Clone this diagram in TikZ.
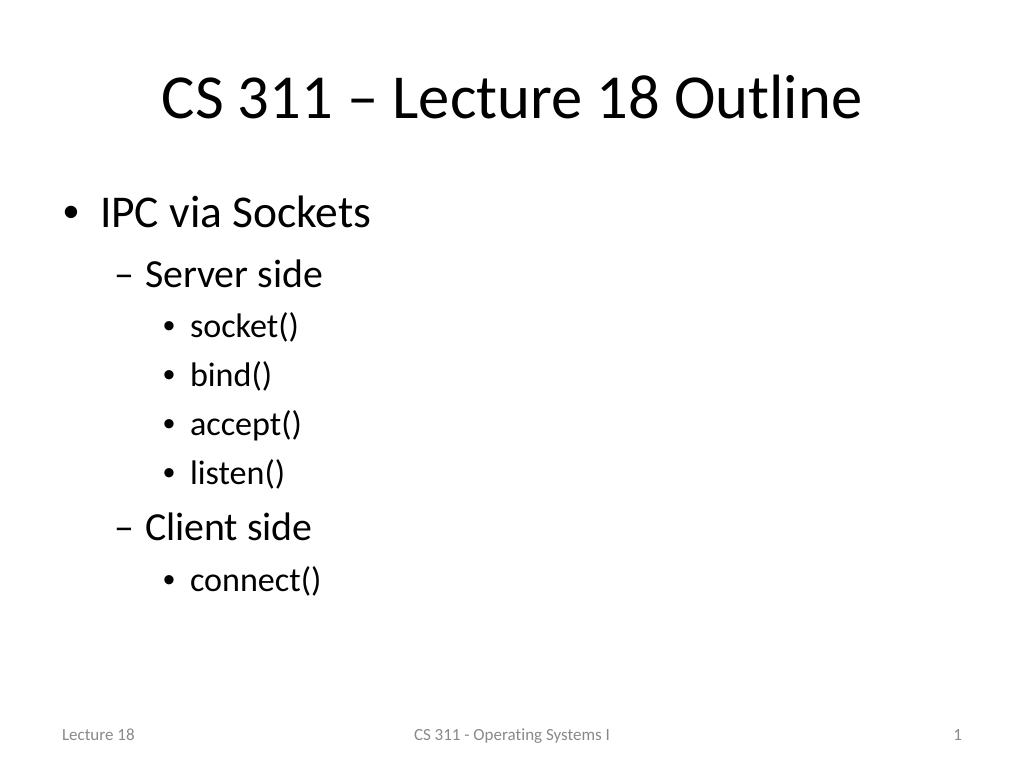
\documentclass[tikz,border=0pt]{standalone}
\usepackage{fontspec}
\setmainfont{Carlito}[RawFeature={-liga;-clig;-calt}]
\newfontfamily\bulletfont{Liberation Sans}
\definecolor{footgray}{HTML}{898989}
\begin{document}
\begin{tikzpicture}[x=1pt,y=-1pt,
  every node/.style={inner sep=0pt,outer sep=0pt},
  lone/.style={anchor=base west,font=\fontsize{45.5}{50}\selectfont},
  ltwo/.style={anchor=base west,font=\fontsize{39.8}{44}\selectfont},
  lthree/.style={anchor=base west,font=\fontsize{34.1}{38}\selectfont},
  bone/.style={anchor=base west,font=\bulletfont\fontsize{45.5}{50}\selectfont},
  bthree/.style={anchor=base west,font=\bulletfont\fontsize{34.1}{38}\selectfont},
  foot/.style={font=\fontsize{17}{19}\selectfont,text=footgray}]
\useasboundingbox[fill=white] (0,0) rectangle (1024,768);
\node[anchor=base,font=\fontsize{62.6}{68}\selectfont] (title) at (512,118) {CS 311 – Lecture 18 Outline};
% level 1
\node[bone] (b1) at (63,227) {•};
\node[lone] (t1) at (100,227) {IPC via Sockets};
% level 2
\node[ltwo] (d1) at (114,287) {–};
\node[ltwo] (t2) at (145,287) {Server side};
% level 3
\node[bthree] (b31) at (163,337) {•};
\node[lthree] (t31) at (190,337) {socket()};
\node[bthree] (b32) at (163,386) {•};
\node[lthree] (t32) at (190,386) {bind()};
\node[bthree] (b33) at (163,435) {•};
\node[lthree] (t33) at (190,435) {accept()};
\node[bthree] (b34) at (163,484) {•};
\node[lthree] (t34) at (190,484) {listen()};
\node[ltwo] (d2) at (114,540) {–};
\node[ltwo] (t3) at (145,540) {Client side};
\node[bthree] (b41) at (163,591) {•};
\node[lthree] (t41) at (190,591) {connect()};
% footer
\node[foot,anchor=base west] (f1) at (62,740) {Lecture 18};
\node[foot,anchor=base] (f2) at (512,740) {CS 311 - Operating Systems I};
\node[foot,anchor=base east] (f3) at (962,740) {1};
\end{tikzpicture}
\end{document}
